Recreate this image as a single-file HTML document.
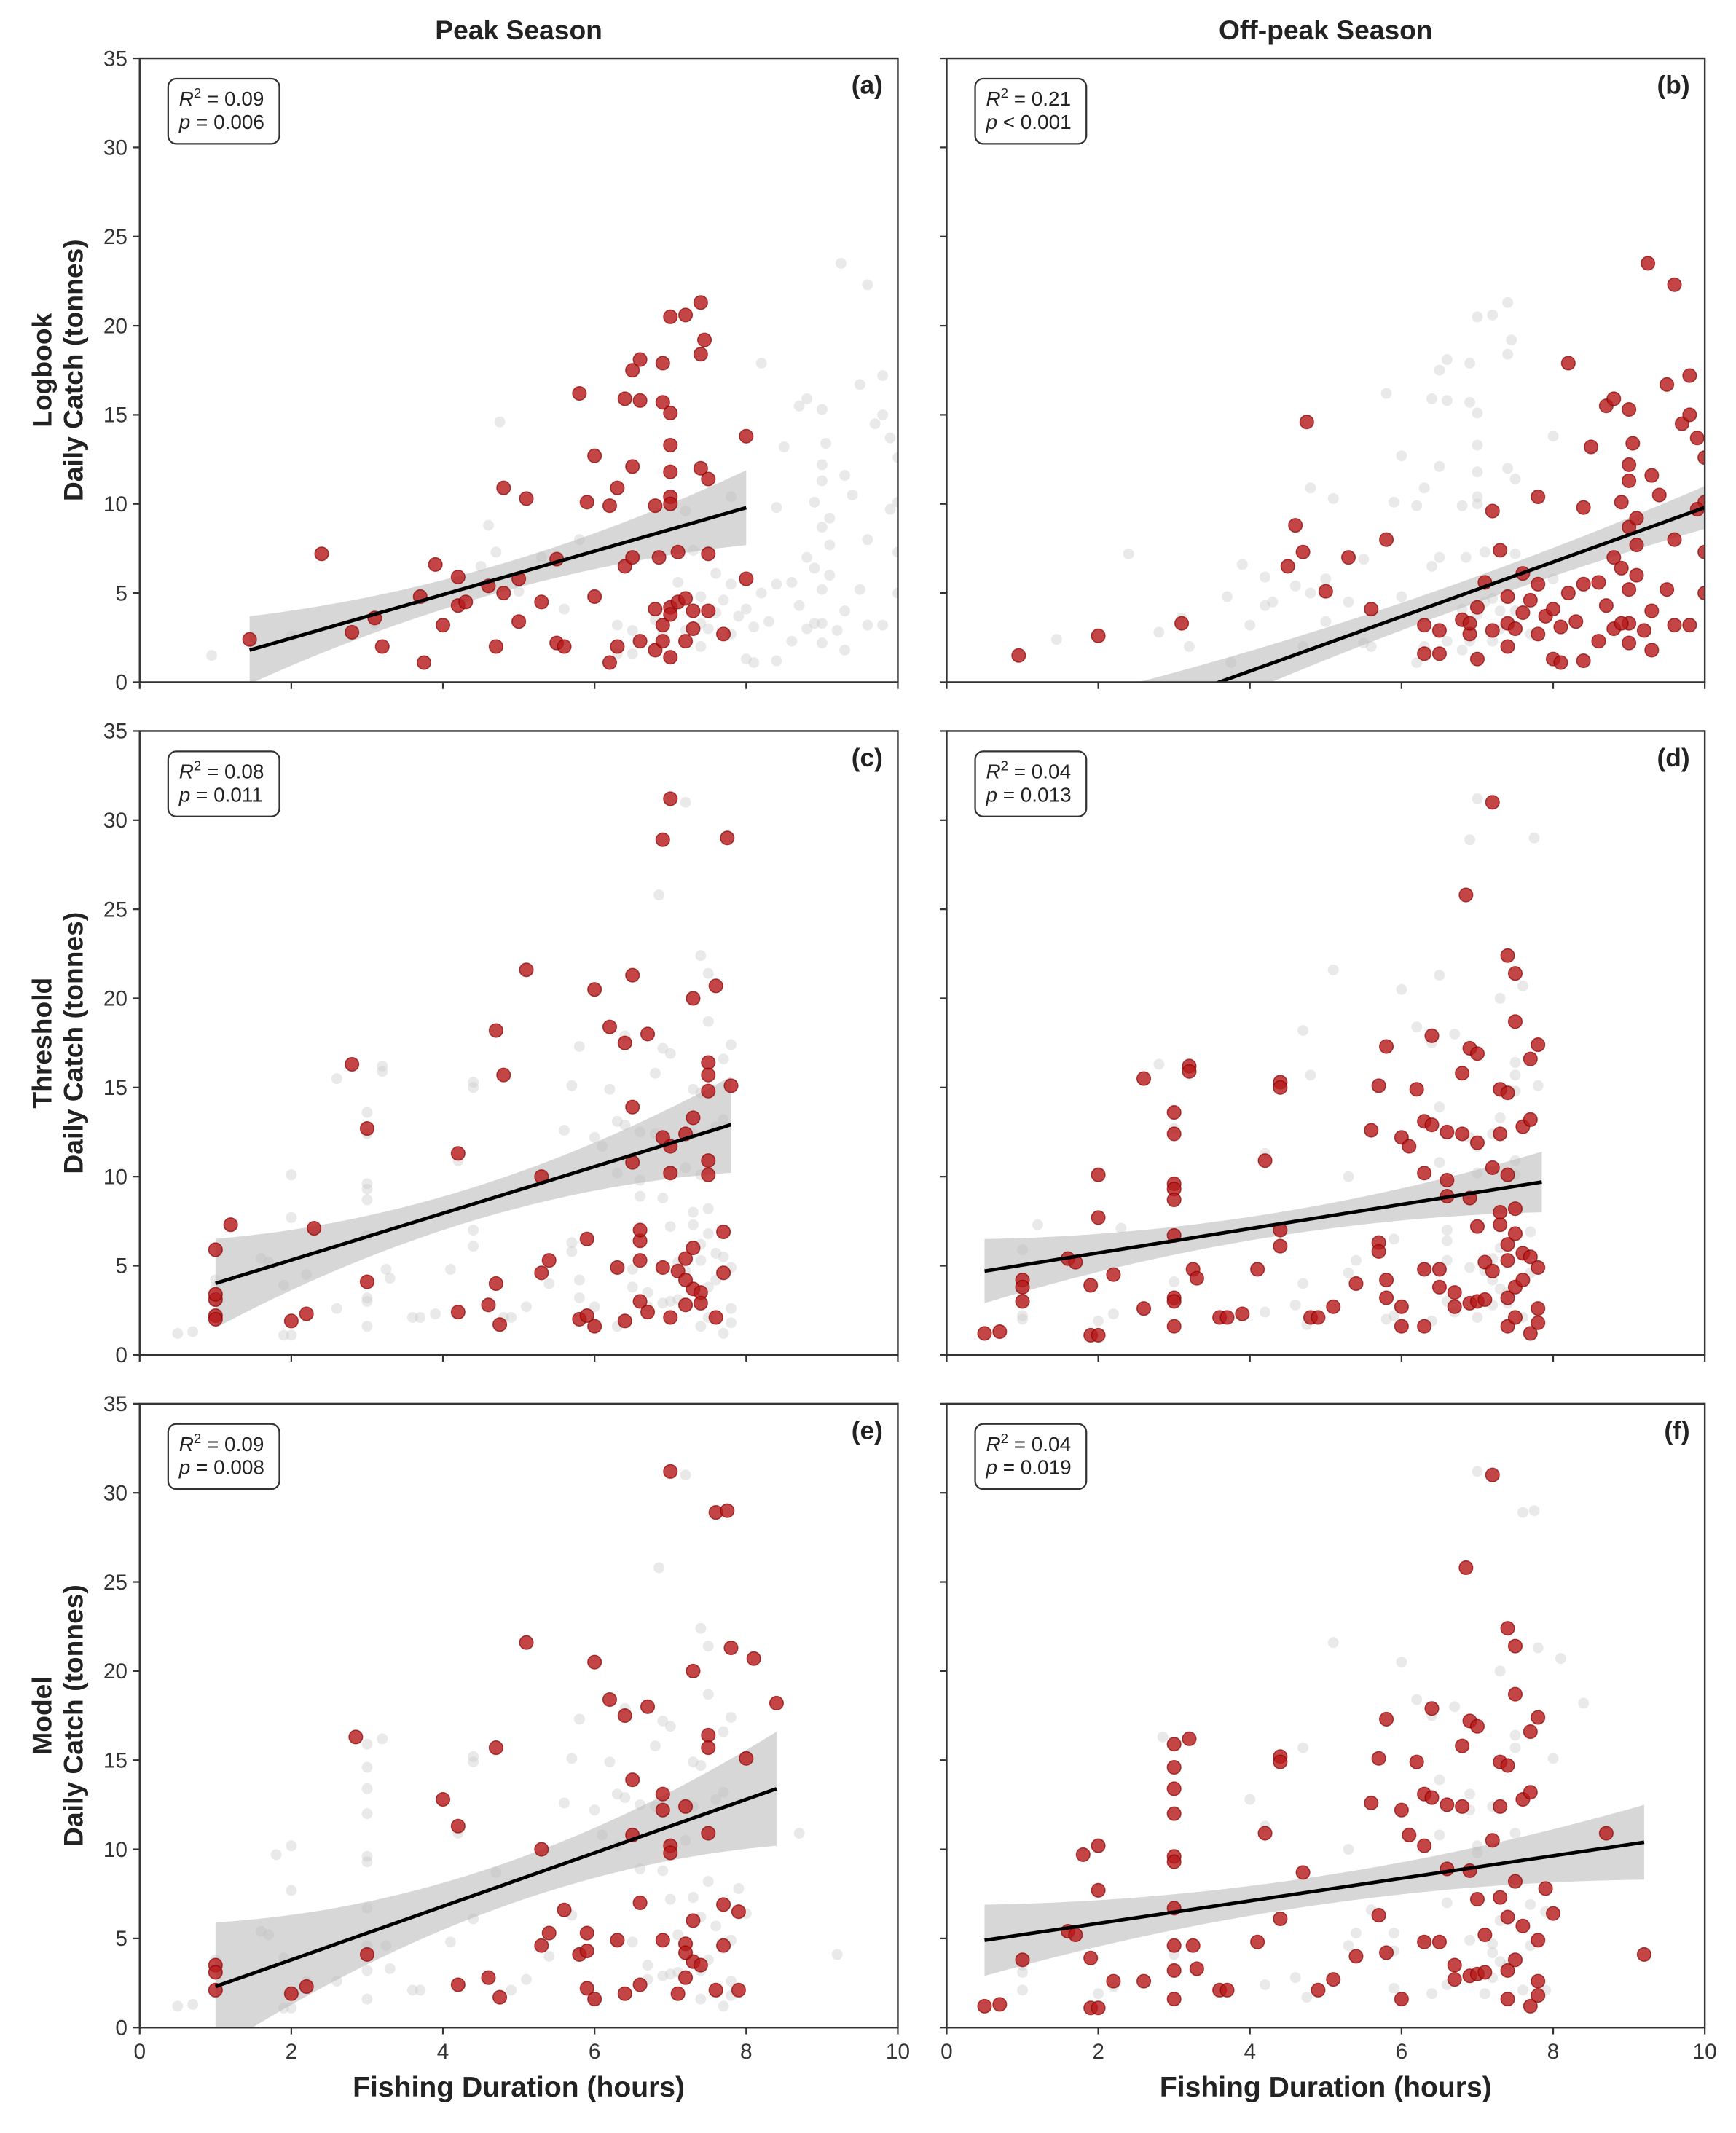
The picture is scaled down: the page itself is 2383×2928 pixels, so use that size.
<!DOCTYPE html>
<html><head><meta charset="utf-8">
<style>
html,body{margin:0;padding:0;background:#fff;}
svg{display:block;font-family:"Liberation Sans",Arial,sans-serif;}
</style></head>
<body>
<svg id="chart" width="2383" height="2928" viewBox="0 0 2383 2928" xmlns="http://www.w3.org/2000/svg">
<g id="root" transform="scale(1.8617)"></g>
</svg>
<script>
const xTicks = [0, 2, 4, 6, 8, 10];
const yTicks = [0, 5, 10, 15, 20, 25, 30, 35];
const colTitles = ["Peak Season", "Off-peak Season"];
const rowLabels = ["Logbook", "Threshold", "Model"];
const panelLetters = ["(a)", "(b)", "(c)", "(d)", "(e)", "(f)"];
const r2Labels = ["0.09", "0.21", "0.08", "0.04", "0.09", "0.04"];
const pLabels = ["= 0.006", "< 0.001", "= 0.011", "= 0.013", "= 0.008", "= 0.019"];
// regression: intercept, slope, x-range
const intercepts = [0.03, -5.5, 2.7, 4.36, 0.8, 4.58];
const slopes = [1.22, 1.53, 1.31, 0.68, 1.5, 0.632];
const lineX0 = [1.45, 0.95, 1.0, 0.5, 1.0, 0.5];
const lineX1 = [8.0, 10.0, 7.8, 7.85, 8.4, 9.2];
// CI half-widths at start, mid(5), end
const ciStart = [1.9, 2.4, 2.5, 1.8, 3.6, 2.0];
const ciMid = [0.8, 0.9, 1.0, 0.7, 1.2, 0.8];
const ciEnd = [2.1, 1.2, 2.7, 1.7, 3.2, 2.1];

const ptsA = [[1.45,2.4],[2.4,7.2],[2.8,2.8],[3.1,3.6],[3.2,2.0],[3.7,4.8],[3.75,1.1],[3.9,6.6],[4.0,3.2],[4.2,4.3],[4.3,4.5],[4.2,5.9],[4.6,5.4],[4.7,2.0],[4.8,5.0],[4.8,10.9],[5.0,3.4],[5.0,5.8],[5.1,10.3],[5.3,4.5],[5.5,6.9],[5.5,2.2],[5.6,2.0],[5.8,16.2],[5.9,10.1],[6.0,4.8],[6.0,12.7],[6.2,1.1],[6.2,9.9],[6.3,10.9],[6.3,2.0],[6.4,6.5],[6.4,15.9],[6.5,12.1],[6.5,17.5],[6.6,18.1],[6.5,7.0],[6.6,2.3],[6.6,15.8],[6.8,4.1],[6.8,9.9],[6.8,1.8],[6.85,7.0],[6.9,17.9],[6.9,15.7],[6.9,2.3],[6.9,3.2],[7.0,20.5],[7.0,15.1],[7.0,13.3],[7.0,11.8],[7.0,10.4],[7.0,10.0],[7.0,4.2],[7.0,3.8],[7.0,1.4],[7.1,7.3],[7.1,4.5],[7.2,20.6],[7.2,4.7],[7.2,2.3],[7.3,4.0],[7.3,3.0],[7.4,21.3],[7.4,18.4],[7.45,19.2],[7.4,12.0],[7.5,11.4],[7.5,7.2],[7.5,4.0],[7.7,2.7],[8.0,13.8],[8.0,5.8]];
const ptsB = [[0.95,1.5],[2.0,2.6],[3.1,3.3],[4.5,6.5],[4.6,8.8],[4.7,7.3],[4.75,14.6],[5.0,5.1],[5.3,7.0],[5.6,4.1],[5.8,8.0],[6.3,3.2],[6.3,1.6],[6.5,1.6],[6.5,2.9],[6.8,3.5],[6.9,2.7],[6.9,3.3],[7.0,4.2],[7.0,1.3],[7.1,5.6],[7.2,9.6],[7.2,2.9],[7.3,7.4],[7.4,3.3],[7.4,2.0],[7.4,4.8],[7.5,3.0],[7.6,6.1],[7.6,3.9],[7.7,4.6],[7.8,10.4],[7.8,2.7],[7.8,5.5],[7.9,3.7],[8.0,4.1],[8.0,1.3],[8.1,1.1],[8.1,3.1],[8.2,5.0],[8.2,17.9],[8.3,3.4],[8.4,9.8],[8.4,1.2],[8.4,5.5],[8.5,13.2],[8.6,5.6],[8.7,15.5],[8.8,15.9],[8.8,3.0],[8.8,7.0],[8.9,6.4],[8.9,10.1],[9.0,3.3],[9.0,15.3],[9.0,8.7],[9.0,11.3],[9.0,12.2],[9.0,5.2],[9.0,2.2],[9.05,13.4],[9.1,7.7],[9.1,9.2],[9.1,6.0],[9.2,2.9],[9.25,23.5],[9.3,11.6],[9.3,4.0],[9.4,10.5],[9.5,16.7],[9.5,5.2],[9.6,22.3],[9.6,8.0],[9.7,14.5],[9.8,17.2],[9.8,15.0],[9.9,13.7],[10.0,10.1],[10.0,12.6],[10.0,7.3],[10.0,5.0],[9.8,3.2],[9.9,9.7],[9.6,3.2],[9.3,1.8],[8.9,3.3],[8.6,2.3],[8.7,4.3]];
const ptsC = [[1.0,5.9],[1.0,3.1],[1.0,3.4],[1.0,2.2],[1.0,2.0],[1.2,7.3],[2.0,1.9],[2.2,2.3],[2.3,7.1],[2.8,16.3],[3.0,12.7],[3.0,4.1],[4.2,11.3],[4.2,2.4],[4.6,2.8],[4.7,18.2],[4.7,4.0],[4.75,1.7],[4.8,15.7],[5.1,21.6],[5.3,4.6],[5.3,10.0],[5.4,5.3],[5.8,2.0],[5.9,6.5],[5.9,2.2],[6.0,20.5],[6.0,1.6],[6.2,18.4],[6.3,4.9],[6.4,17.5],[6.4,1.9],[6.5,21.3],[6.5,13.9],[6.5,10.8],[6.6,6.4],[6.6,7.0],[6.6,5.3],[6.6,3.0],[6.7,2.4],[6.7,18.0],[6.9,4.9],[6.9,12.2],[7.0,31.2],[6.9,28.9],[7.0,11.7],[7.0,10.2],[7.0,2.1],[7.1,4.7],[7.2,12.4],[7.2,5.4],[7.3,20.0],[7.3,13.3],[7.3,6.0],[7.3,3.7],[7.4,3.5],[7.4,2.9],[7.5,16.4],[7.5,15.7],[7.5,14.8],[7.5,10.9],[7.5,10.1],[7.6,20.7],[7.6,2.1],[7.7,6.9],[7.7,4.6],[7.75,29.0],[7.8,15.1],[7.2,4.2],[7.2,2.8]];
const ptsD = [[0.5,1.2],[0.7,1.3],[1.0,4.2],[1.0,3.0],[1.0,3.8],[1.6,5.4],[1.7,5.2],[1.9,3.9],[1.9,1.1],[2.0,1.1],[2.0,10.1],[2.0,7.7],[2.2,4.5],[2.6,15.5],[2.6,2.6],[3.0,13.6],[3.0,12.4],[3.0,9.6],[3.0,9.3],[3.0,8.7],[3.0,6.7],[3.0,3.2],[3.0,3.0],[3.0,1.6],[3.2,16.2],[3.2,15.9],[3.25,4.8],[3.3,4.3],[3.6,2.1],[3.7,2.1],[3.9,2.3],[4.1,4.8],[4.2,10.9],[4.4,15.3],[4.4,15.0],[4.4,6.1],[4.4,7.0],[4.8,2.1],[4.9,2.1],[5.1,2.7],[5.4,4.0],[5.6,12.6],[5.7,6.3],[5.7,5.8],[5.7,15.1],[5.8,17.3],[5.8,4.2],[5.8,3.2],[6.0,1.6],[6.0,12.2],[6.0,2.7],[6.1,11.7],[6.2,14.9],[6.3,13.1],[6.3,10.2],[6.3,4.8],[6.3,1.6],[6.4,17.9],[6.4,12.9],[6.5,4.8],[6.5,3.8],[6.6,12.5],[6.6,9.8],[6.6,8.9],[6.7,3.5],[6.7,2.7],[6.8,15.8],[6.8,12.4],[6.85,25.8],[6.9,17.2],[6.9,8.8],[6.9,2.9],[7.0,16.9],[7.0,11.9],[7.0,7.2],[7.0,3.0],[7.1,5.2],[7.1,3.1],[7.2,31.0],[7.2,10.5],[7.2,4.7],[7.3,14.9],[7.3,12.4],[7.3,7.3],[7.4,22.4],[7.4,14.7],[7.4,10.1],[7.4,6.2],[7.4,5.3],[7.4,3.2],[7.4,1.6],[7.5,21.4],[7.5,18.7],[7.5,8.2],[7.5,6.8],[7.5,3.8],[7.5,2.1],[7.6,12.8],[7.6,5.7],[7.7,13.2],[7.7,16.6],[7.7,5.5],[7.7,1.2],[7.8,17.4],[7.8,4.9],[7.8,2.6],[7.8,1.8],[7.3,8.0],[7.6,4.2]];
const ptsE = [[1.0,3.5],[1.0,3.1],[1.0,2.1],[2.0,1.9],[2.2,2.3],[2.85,16.3],[3.0,4.1],[4.0,12.8],[4.2,11.3],[4.2,2.4],[4.6,2.8],[4.7,15.7],[4.75,1.7],[5.1,21.6],[5.3,4.6],[5.3,10.0],[5.4,5.3],[5.6,6.6],[5.8,4.1],[5.9,5.3],[5.9,2.2],[6.0,20.5],[6.0,1.6],[6.2,18.4],[6.3,4.9],[6.4,17.5],[6.4,1.9],[6.5,13.9],[6.5,10.8],[6.6,7.0],[6.6,2.4],[6.7,18.0],[6.9,4.9],[6.9,13.1],[7.0,31.2],[7.0,10.2],[7.0,9.8],[7.1,1.9],[7.2,4.7],[7.2,12.4],[7.3,20.0],[7.3,6.0],[7.3,3.7],[7.4,3.5],[7.5,16.4],[7.5,15.7],[7.5,10.9],[7.6,28.9],[7.6,2.1],[7.7,6.9],[7.7,4.6],[7.75,29.0],[7.8,21.3],[7.9,6.5],[7.9,2.1],[8.0,15.1],[8.1,20.7],[8.4,18.2],[7.2,4.2],[7.2,2.8],[6.9,12.2],[5.9,4.3]];
const ptsF = [[0.5,1.2],[0.7,1.3],[1.0,3.8],[1.6,5.4],[1.7,5.2],[1.8,9.7],[2.0,10.2],[1.9,3.9],[1.9,1.1],[2.0,1.1],[2.0,7.7],[2.2,2.6],[2.6,2.6],[3.0,15.9],[3.0,14.6],[3.0,13.4],[3.0,12.0],[3.0,9.6],[3.0,9.3],[3.0,6.7],[3.0,4.6],[3.0,3.2],[3.0,1.6],[3.2,16.2],[3.25,4.6],[3.3,3.3],[3.6,2.1],[3.7,2.1],[4.1,4.8],[4.2,10.9],[4.4,15.2],[4.4,14.9],[4.4,6.1],[4.7,8.7],[4.9,2.1],[5.1,2.7],[5.4,4.0],[5.6,12.6],[5.7,6.3],[5.7,15.1],[5.8,17.3],[5.8,4.2],[6.0,1.6],[6.0,12.2],[6.1,10.8],[6.2,14.9],[6.3,13.1],[6.3,10.2],[6.3,4.8],[6.4,17.9],[6.4,12.9],[6.5,4.8],[6.6,12.5],[6.6,8.9],[6.7,3.5],[6.7,2.7],[6.8,15.8],[6.8,12.4],[6.85,25.8],[6.9,17.2],[6.9,8.8],[6.9,2.9],[7.0,16.9],[7.0,7.2],[7.0,3.0],[7.1,5.2],[7.1,3.1],[7.2,31.0],[7.2,10.5],[7.3,14.9],[7.3,12.4],[7.3,7.3],[7.4,22.4],[7.4,14.7],[7.4,6.2],[7.4,3.2],[7.4,1.6],[7.5,21.4],[7.5,18.7],[7.5,8.2],[7.5,3.8],[7.6,12.8],[7.6,5.7],[7.7,13.2],[7.7,16.6],[7.7,1.2],[7.8,17.4],[7.8,4.9],[7.8,2.6],[7.9,7.8],[8.0,6.4],[8.7,10.9],[9.2,4.1],[7.8,1.8]];

const panelPts = [ptsA, ptsB, ptsC, ptsD, ptsE, ptsF];
const grayPts = [ptsB, ptsA, ptsD, ptsC, ptsF, ptsE];

const NS = "http://www.w3.org/2000/svg";
const root = document.getElementById('root');
function mk(tag, attrs, parent){const e=document.createElementNS(NS,tag);for(const k in attrs)e.setAttribute(k,attrs[k]);(parent||root).appendChild(e);return e;}

const colLeft = [103, 698], pw = 559, ph = 460, rowTop = [43, 539, 1035];

colTitles.forEach((t,i)=>{
  const e=mk('text',{x:colLeft[i]+pw/2,y:29,'text-anchor':'middle','font-size':20,'font-weight':'bold',fill:'#222'});
  
  
  e.textContent=t;
});

for(let p=0;p<6;p++){
  const col=p%2,row=Math.floor(p/2);
  const L=colLeft[col],T=rowTop[row];
  const sx=v=>L+v/10*pw, sy=v=>T+ph-v/35*ph;
  const g=mk('g',{});
  
  
  const cid='clip'+p;
  const cp=mk('clipPath',{id:cid},g); mk('rect',{x:L,y:T,width:pw,height:ph},cp);
  // gray
  const gg=mk('g',{'clip-path':'url(#'+cid+')'},g);
  grayPts[p].forEach(d=>{const c=mk('circle',{cx:sx(d[0]),cy:sy(d[1]),r:4,fill:'#c8c8c8','fill-opacity':0.4},gg);
    });
  // band
  const x0=lineX0[p],x1=lineX1[p],xm=5;
  const half=x=>{ // quadratic through (x0,s),(xm,m),(x1,e)
    const a=ciStart[p],b=ciMid[p],c=ciEnd[p];
    return a*((x-xm)*(x-x1))/((x0-xm)*(x0-x1))+b*((x-x0)*(x-x1))/((xm-x0)*(xm-x1))+c*((x-x0)*(x-xm))/((x1-x0)*(x1-xm));
  };
  const fit=x=>intercepts[p]+slopes[p]*x;
  let up=[],lo=[];
  for(let i=0;i<=40;i++){const x=x0+(x1-x0)*i/40;up.push(sx(x)+','+sy(fit(x)+Math.max(0.3,half(x))));lo.push(sx(x)+','+sy(fit(x)-Math.max(0.3,half(x))));}
  const band=mk('polygon',{points:up.concat(lo.reverse()).join(' '),fill:'#bdbdbd','fill-opacity':0.6,'clip-path':'url(#'+cid+')'},g);
  
  const rg=mk('g',{'clip-path':'url(#'+cid+')'},g);
  panelPts[p].forEach(d=>{const c=mk('circle',{cx:sx(d[0]),cy:sy(d[1]),r:5,fill:'#b71c1c','fill-opacity':0.82,stroke:'#8b0000','stroke-opacity':0.7,'stroke-width':0.8},rg);
    });
  const ln=mk('line',{x1:sx(x0),y1:sy(fit(x0)),x2:sx(x1),y2:sy(fit(x1)),stroke:'#000','stroke-width':2.6,'clip-path':'url(#'+cid+')'},g);
  
  const fr=mk('rect',{x:L,y:T,width:pw,height:ph,fill:'none',stroke:'#333','stroke-width':1.3},g);
  
  yTicks.forEach(v=>{mk('line',{x1:L-5,x2:L,y1:sy(v),y2:sy(v),stroke:'#333','stroke-width':1.2},g);
    if(col===0){const t=mk('text',{x:L-9,y:sy(v)+5.5,'text-anchor':'end','font-size':16,fill:'#333'},g);
      t.textContent=v;}});
  xTicks.forEach(v=>{mk('line',{x1:sx(v),x2:sx(v),y1:T+ph,y2:T+ph+5,stroke:'#333','stroke-width':1.2},g);
    if(row===2){const t=mk('text',{x:sx(v),y:T+ph+23,'text-anchor':'middle','font-size':16,fill:'#333'},g);
      t.textContent=v;}});
  const lt=mk('text',{x:L+pw-11,y:T+26,'text-anchor':'end','font-size':19,'font-weight':'bold',fill:'#222'},g);
  lt.textContent=panelLetters[p];
  const bx=mk('rect',{x:L+21,y:T+15,width:82,height:48,rx:6,fill:'#fff',stroke:'#333','stroke-width':1.2},g);
  
  const t1=mk('text',{x:L+29,y:T+35,'font-size':15,fill:'#222'},g);
  
  t1.innerHTML='<tspan font-style="italic">R</tspan><tspan dy="-6" font-size="10">2</tspan><tspan dy="6"> = '+r2Labels[p]+'</tspan>';
  const t2=mk('text',{x:L+29,y:T+52,'font-size':15,fill:'#222'},g);
  
  t2.innerHTML='<tspan font-style="italic">p</tspan> '+pLabels[p];
}
rowLabels.forEach((r,i)=>{
  const cy=rowTop[i]+ph/2;
  const t=mk('text',{transform:'translate(38,'+cy+') rotate(-90)','text-anchor':'middle','font-size':20,'font-weight':'bold',fill:'#222'});
  
  t.innerHTML='<tspan x="0" dy="0">'+r+'</tspan><tspan x="0" dy="23">Daily Catch (tonnes)</tspan>';
});
[0,1].forEach(i=>{
  const t=mk('text',{x:colLeft[i]+pw/2,y:1546,'text-anchor':'middle','font-size':21,'font-weight':'bold',fill:'#222'});
  
  t.textContent='Fishing Duration (hours)';
});
</script>
</body></html>
